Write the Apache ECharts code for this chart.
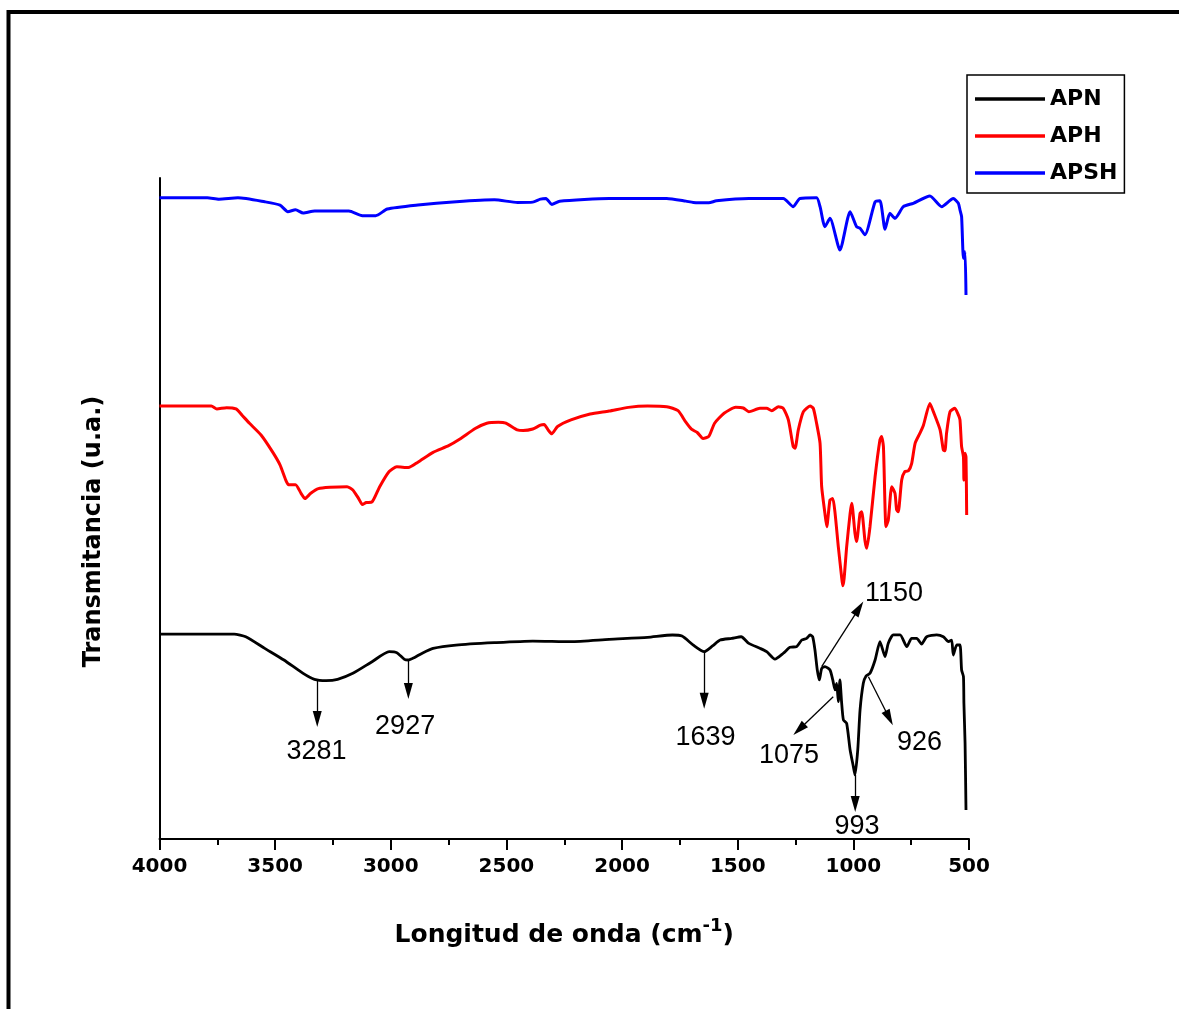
<!DOCTYPE html>
<html><head><meta charset="utf-8">
<script src="https://cdn.jsdelivr.net/npm/echarts@6/dist/echarts.min.js"></script>
<style>html,body{margin:0;padding:0;background:#fff}#c{width:1179px;height:1009px}</style>
</head><body><div id="c"></div>
<script>
// wavenumber axis (cm-1), ticks every 500
const xMin = 500, xMax = 4000, xInterval = 500;
const seriesNames = ['APN', 'APH', 'APSH'];

// [wavenumber, transmittance (a.u.)]
const APN = [
[4000,31.0],[3677,31.0],[3627,30.6],[3545,28.84],[3462,27.08],[3379,25.06],[3330,24.15],[3280,23.95],[3230,24.15],[3164,25.06],[3081,26.82],[3007,28.34],[2974,28.19],[2941,27.18],[2924,27.08],[2899,27.43],[2866,28.08],[2817,28.84],[2718,29.34],[2552,29.7],[2386,29.95],[2221,29.85],[2056,30.2],[1890,30.5],[1782,30.86],[1741,30.7],[1692,29.34],[1645,28.34],[1609,29.2],[1576,30.1],[1526,30.35],[1485,30.6],[1452,29.6],
[1404,28.85],[1375,28.34],[1339,27.2],[1303,28.1],[1274,29.0],[1245,29.1],[1223,30.1],[1202,30.36],[1187,30.87],[1176,30.6],[1166,28.6],[1156,25.57],[1147,24.06],[1137,25.8],[1123,26.08],[1101,25.57],[1089,24.06],[1079,22.55],[1072,23.55],[1065,20.78],[1058,24.06],[1051,20.78],[1043,18.0],[1029,17.5],[1014,13.47],[1000,10.95],[993,9.69],[981,13.47],[971,19.52],[957,23.55],[945,24.66],[928,25.07],[906,27.08],[885,29.86],[863,27.59],[849,29.61],[827,30.87],[798,30.87],[769,29.1],[748,30.36],[726,30.36],[705,29.5],[683,30.6],[640,30.87],[611,30.6],[589,29.86],[575,30.1],[568,27.84],[553,29.35],[539,29.35],[532,25.57],[524,24.56],[522,20.53],[517,14.48],[513,4.39]
];
const APH = [
[4000,65.5],[3776,65.5],[3752,65.06],[3710,65.26],[3669,65.06],[3644,64.15],[3611,62.89],[3561,61.12],[3512,58.6],[3479,56.6],[3454,54.3],[3442,53.6],[3412,53.6],[3388,52.3],[3371,51.5],[3346,52.3],[3313,53.0],[3263,53.2],[3189,53.3],[3164,52.8],[3139,51.5],[3123,50.6],[3106,50.9],[3081,51.0],[3048,53.3],[3007,55.6],[2974,56.3],[2924,56.2],[2883,57.0],[2817,58.5],[2750,59.5],[2701,60.5],[2635,62.1],[2585,62.9],[2535,63.04],[2502,62.9],[2453,61.9],[2428,61.8],[2386,62.03],[2353,62.6],[2337,62.7],[2320,61.9],[2304,61.3],[2279,62.4],[2221,63.4],[2138,64.3],[2056,64.75],[1973,65.3],[1890,65.5],[1807,65.4],[1758,64.8],[1725,63.1],[1700,62.0],[1675,61.5],[1650,60.6],[1625,60.9],[1600,62.9],[1559,64.4],[1509,65.3],[1476,65.2],[1452,64.65],
[1404,65.15],[1375,65.15],[1353,64.8],[1324,65.4],[1303,65.15],[1281,63.4],[1260,59.35],[1252,59.1],[1238,61.9],[1216,64.65],[1187,65.5],[1173,65.15],[1159,62.9],[1144,59.86],[1137,53.3],[1123,49.27],[1115,47.25],[1101,51.3],[1089,51.5],[1079,49.27],[1065,44.2],[1051,39.7],[1046,38.3],[1040,39.4],[1029,44.2],[1014,49.27],[1007,50.8],[993,46.24],[986,45.0],[971,49.27],[964,49.5],[950,45.2],[942,43.97],[928,47.25],[906,54.8],[885,60.4],[878,60.9],[870,59.35],[859,47.25],[849,48.26],[834,53.3],[820,52.3],[813,49.8],[806,49.5],[791,54.3],[777,55.6],[762,55.7],[748,56.8],[733,59.86],[712,61.4],[697,62.6],[669,65.9],[654,64.65],[625,61.9],[611,58.85],[604,58.75],[597,61.4],[582,64.65],[561,65.15],[546,64.15],[539,63.4],[532,59.35],[524,57.8],[522,54.3],[517,58.35],[513,57.8],[510,49.0]
];
const APSH = [
[4000,97.0],[3793,97.0],[3743,96.8],[3661,97.0],[3545,96.4],[3479,95.9],[3445,94.9],[3412,95.2],[3379,94.7],[3329,95.0],[3181,95.0],[3123,94.3],[3065,94.3],[3015,95.3],[2883,95.9],[2717,96.4],[2552,96.7],[2452,96.3],[2386,96.35],[2353,96.8],[2329,96.9],[2304,96.0],[2270,96.5],[2056,96.9],[1807,96.9],[1724,96.5],[1692,96.3],[1625,96.25],[1592,96.55],[1452,96.9],
[1403,96.9],[1303,96.9],[1260,95.66],[1231,96.9],[1159,97.0],[1144,95.66],[1123,92.64],[1101,93.9],[1058,89.1],[1014,94.9],[986,92.64],[971,92.4],[950,91.4],[906,96.4],[885,96.57],[863,92.24],[842,94.65],[820,93.9],[784,95.66],[741,96.17],[669,97.28],[618,95.66],[568,96.9],[546,96.17],[539,95.16],[532,94.15],[524,87.85],[517,88.85],[513,82.3]
];

// peak annotations: label position and arrow [start, end]
const peakLabels = [
  {name:'3281', coord:[3321,13.16]},
  {name:'2927', coord:[2938,16.94]},
  {name:'1639', coord:[1639,15.28]},
  {name:'1150', coord:[824,37.07]},
  {name:'1075', coord:[1278,12.7]},
  {name:'926',  coord:[714,14.52]},
  {name:'993',  coord:[984,1.89]}
];
const peakArrows = [
  [[3318,23.9],[3318,18.15]],
  [[2924,27.08],[2924,22.4]],
  [[1645,28.34],[1645,20.9]],
  [[1137,26.07],[975.5,34.9]],
  [[1087,21.53],[1234.5,16.57]],
  [[935,24.55],[845,18.3]],
  [[992,9.68],[992,5.3]]
];

const boldFont = 'DejaVu Sans';
const chart = echarts.init(document.getElementById('c'), null, {renderer:'canvas'});
const mkLine = (name, data, color, w) => ({
  name, type:'line', data, symbol:'none', showSymbol:false, smooth:0.2, animation:false,
  lineStyle:{color, width:w}, itemStyle:{color}
});
chart.setOption({
  backgroundColor:'#fff',
  animation:false,
  graphic:[{type:'rect', silent:true, shape:{x:8.5,y:12,width:1300,height:1100},
    style:{fill:'none', stroke:'#000', lineWidth:4}}],
  grid:{left:159.5, right:210, top:178, bottom:170},
  legend:{
    data:seriesNames, orient:'vertical', left:967, top:75,
    icon:'rect', itemWidth:70, itemHeight:3.5, itemGap:15, padding:[13,7,9,8],
    borderColor:'#000', borderWidth:1.5,
    textStyle:{fontFamily:boldFont, fontWeight:'bold', fontSize:22, color:'#000', lineHeight:22}
  },
  xAxis:{
    type:'value', inverse:true, min:xMin, max:xMax, interval:xInterval,
    axisLine:{lineStyle:{color:'#000', width:2}},
    axisTick:{show:true, length:11, lineStyle:{color:'#000', width:2}},
    minorTick:{show:true, splitNumber:2, length:6, lineStyle:{color:'#000', width:2}},
    splitLine:{show:false},
    axisLabel:{fontFamily:boldFont, fontWeight:'bold', fontSize:20, color:'#000', margin:18,
      formatter:v => String(v)},
    name:'{a|Longitud de onda (cm}{s|-1}{a|)}',
    nameLocation:'middle', nameGap:78,
    nameTextStyle:{
      fontFamily:boldFont, fontWeight:'bold', fontSize:25, color:'#000',
      rich:{
        a:{fontFamily:boldFont, fontWeight:'bold', fontSize:25, color:'#000', lineHeight:26, padding:[10,0,0,0]},
        s:{fontFamily:boldFont, fontWeight:'bold', fontSize:18, color:'#000', lineHeight:18, verticalAlign:'top'}
      }
    }
  },
  yAxis:{
    type:'value', min:0, max:100,
    axisLine:{show:true, lineStyle:{color:'#000', width:2}},
    axisTick:{show:false}, axisLabel:{show:false}, splitLine:{show:false},
    name:'Transmitancia (u.a.)', nameLocation:'middle', nameGap:54,
    nameTextStyle:{fontFamily:boldFont, fontWeight:'bold', fontSize:24, color:'#000', padding:[0,46,0,0]}
  },
  series:[
    mkLine('APN', APN, '#000000', 2.8),
    mkLine('APH', APH, '#ff0000', 3),
    mkLine('APSH', APSH, '#0000ff', 3),
    {
      name:'peaks', type:'line', data:[], symbol:'none', silent:true,
      markPoint:{
        silent:true, animation:false, symbol:'circle', symbolSize:0,
        itemStyle:{color:'#000'},
        label:{show:true, position:'inside', formatter:'{b}', fontFamily:'Liberation Sans', fontSize:27, color:'#000000', opacity:1},
        data:peakLabels
      },
      markLine:{
        silent:true, animation:false, symbol:['none','triangle'], symbolSize:[9,16],
        lineStyle:{color:'#000', width:1.3, type:'solid'}, itemStyle:{color:'#000'},
        label:{show:false},
        data:peakArrows.map(a => [{coord:a[0]},{coord:a[1]}])
      }
    }
  ]
});
</script></body></html>
